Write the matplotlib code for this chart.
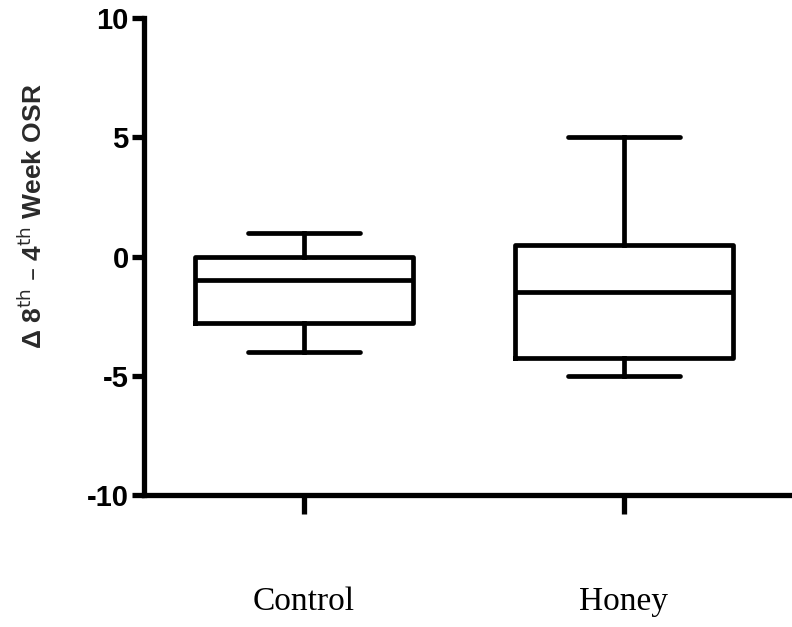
import matplotlib
matplotlib.use("Agg")
import matplotlib.pyplot as plt

categories = ["Control", "Honey"]
whislo = [-4.0, -5.0]
q1 = [-2.8, -4.25]
med = [-1.0, -1.5]
q3 = [0.0, 0.5]
whishi = [1.0, 5.0]
yticks = [-10, -5, 0, 5, 10]

fig = plt.figure(figsize=(7.92, 6.27), dpi=100)
ax = fig.add_axes([0.1818, 0.2105, 0.816, 0.7608])

stats = []
for i, c in enumerate(categories):
    stats.append(dict(label=c, whislo=whislo[i], q1=q1[i], med=med[i], q3=q3[i], whishi=whishi[i], fliers=[]))

lw = 3.4
ax.bxp(stats, positions=[1, 2], widths=0.68, showfliers=False,
       boxprops=dict(color="black", linewidth=lw, solid_joinstyle="round"),
       medianprops=dict(color="black", linewidth=lw),
       whiskerprops=dict(color="black", linewidth=lw),
       capprops=dict(color="black", linewidth=lw, solid_capstyle="round"),
       capwidths=0.35)

ax.set_xlim(0.5, 2.52)
ax.set_ylim(-10, 10)
ax.set_yticks(yticks)
ax.set_yticklabels([str(t) for t in yticks], fontsize=21, fontweight="bold", family="Liberation Sans")
ax.set_xticks([1, 2])
ax.set_xticklabels(categories, fontsize=24, family="Liberation Serif")
for s in ["top", "right"]:
    ax.spines[s].set_visible(False)
for s in ["left", "bottom"]:
    ax.spines[s].set_linewidth(3.8)
ax.tick_params(axis="y", length=9, width=3.8, pad=2)
ax.tick_params(axis="x", length=14, width=3.8, pad=52)
ax.set_ylabel(r"Δ 8$^{\mathrm{th}}$ – 4$^{\mathrm{th}}$ Week OSR", fontsize=19, color="#2a2a2a",
              family="Liberation Sans", fontweight="semibold")
ax.yaxis.set_label_coords(-0.15, 0.585)

fig.savefig("out.png", dpi=100)
